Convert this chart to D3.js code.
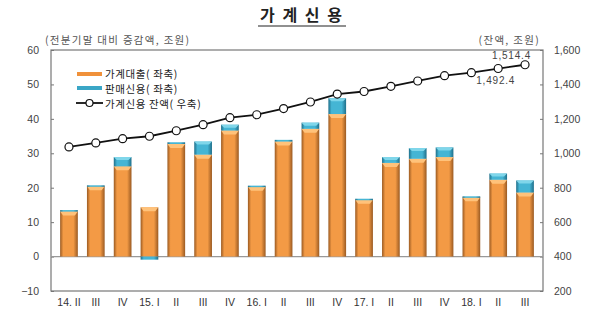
<!DOCTYPE html>
<html><head><meta charset="utf-8">
<script src="https://cdn.jsdelivr.net/npm/d3@7"></script>
<style>body{margin:0;background:#fff}svg{display:block;font-family:"Noto Sans CJK KR","Noto Sans",sans-serif}</style>
</head><body>
<svg id="c" width="600" height="325"></svg>
<script>
const categories = ["14. II","III","IV","15. I","II","III","IV","16. I","II","III","IV","17. I","II","III","IV","18. I","II","III"];
const loans = [13.1,20.4,26.2,14.3,32.7,29.6,36.6,20.3,33.4,37.1,41.4,16.5,27.2,28.4,28.9,17.2,22.3,18.6];
const salesCredit = [0.4,0.3,2.7,-0.9,0.5,3.8,1.7,0.3,0.5,1.8,4.6,0.3,1.7,3.1,2.8,0.3,1.8,3.5];
const balance = [1037,1060,1085,1099,1131,1166,1207,1224,1260,1298,1344,1359,1389,1420,1451,1468,1492.4,1514.4];
const leftTicks = [-10,0,10,20,30,40,50,60];
const rightTicks = [200,400,600,800,1000,1200,1400,1600];
const seriesNames = ["가계대출( 좌축)","판매신용( 좌축)","가계신용 잔액( 우축)"];

const svg = d3.select("#c");
const L = 51, R = 543, T = 50, B = 291;
const idx = categories.map((c, i) => i);
const x = d3.scaleBand().domain(idx).range([L, R]).padding(0.34);
const yL = d3.scaleLinear().domain([-10, 60]).range([B, T]);
const yR = d3.scaleLinear().domain([200, 1600]).range([B, T]);

const defs = svg.append("defs");
function grad(id, edge, mid) {
  const g = defs.append("linearGradient").attr("id", id).attr("x1", 0).attr("x2", 1).attr("y1", 0).attr("y2", 0);
  g.append("stop").attr("offset", "0%").attr("stop-color", edge);
  g.append("stop").attr("offset", "18%").attr("stop-color", mid);
  g.append("stop").attr("offset", "75%").attr("stop-color", mid);
  g.append("stop").attr("offset", "100%").attr("stop-color", edge);
}
grad("gO", "#9a5a22", "#f39a45");
grad("gT", "#1f6f8a", "#45b5d4");

// title
svg.append("text").attr("x", 301).attr("y", 21).attr("text-anchor", "middle")
  .attr("font-size", 16).attr("font-weight", "bold").attr("fill", "#222")
  .attr("word-spacing", "4px").text("가 계 신 용");
svg.append("line").attr("x1", 258).attr("x2", 346).attr("y1", 26).attr("y2", 26).attr("stroke", "#222").attr("stroke-width", 1.2);

svg.append("text").attr("x", 45).attr("y", 44).attr("font-size", 10.5).attr("fill", "#555").attr("letter-spacing", "1.3px").text("(전분기말 대비 증감액, 조원)");
svg.append("text").attr("x", 540).attr("y", 44).attr("text-anchor", "end").attr("font-size", 10.5).attr("fill", "#555").attr("letter-spacing", "1.3px").text("(잔액, 조원)");

// axes
const axL = svg.append("g").attr("transform", `translate(${L},0)`)
  .call(d3.axisLeft(yL).tickValues(leftTicks).tickSize(-3).tickPadding(12));
const axR = svg.append("g").attr("transform", `translate(${R},0)`)
  .call(d3.axisRight(yR).tickValues(rightTicks).tickFormat(d3.format(",")).tickSize(-3).tickPadding(11));
[axL, axR].forEach(a => {
  a.select(".domain").remove();
  a.selectAll("line").attr("stroke", "#777");
  a.selectAll("text").attr("font-size", 10.5).attr("fill", "#444").attr("font-family", "Liberation Sans, Arial, sans-serif");
});
svg.append("rect").attr("x", L).attr("y", T).attr("width", R - L).attr("height", B - T)
  .attr("fill", "none").attr("stroke", "#777").attr("stroke-width", 1.2);
svg.append("line").attr("x1", L).attr("x2", R).attr("y1", yL(0)).attr("y2", yL(0)).attr("stroke", "#999").attr("stroke-width", 1.2);

// x labels
const axX = svg.append("g").attr("transform", `translate(0,${B})`)
  .call(d3.axisBottom(x).tickFormat(i => categories[i]).tickSize(0).tickPadding(8));
axX.select(".domain").remove();
axX.selectAll("text").attr("font-size", 10.5).attr("fill", "#333").attr("font-family", "Liberation Sans, Arial, sans-serif");

// bars
const bw = x.bandwidth();
const g = svg.append("g");
idx.forEach(i => {
  const lv = loans[i], sv = salesCredit[i], x0 = x(i);
  g.append("rect").attr("x", x0).attr("width", bw).attr("y", yL(lv)).attr("height", yL(0) - yL(lv)).attr("fill", "url(#gO)");
  g.append("path").attr("d", `M${x0},${yL(lv)} L${x0+bw},${yL(lv)} L${x0+bw-3},${yL(lv)+4} L${x0+3},${yL(lv)+4} Z`).attr("fill", "#ffc27a");
  let y0, y1;
  if (sv >= 0) { y0 = yL(lv + sv); y1 = yL(lv); } else { y0 = yL(0); y1 = yL(sv); }
  g.append("rect").attr("x", x0).attr("width", bw).attr("y", y0).attr("height", Math.max(1.5, y1 - y0)).attr("fill", "url(#gT)");
  if (y1 - y0 > 4) g.append("path").attr("d", `M${x0},${y0} L${x0+bw},${y0} L${x0+bw-3},${y0+3} L${x0+3},${y0+3} Z`).attr("fill", "#7fd6ea");
});

// line
const cx = i => x(i) + bw / 2;
svg.append("path").datum(balance)
  .attr("d", d3.line().x((d, i) => cx(i)).y(d => yR(d)))
  .attr("fill", "none").attr("stroke", "#111").attr("stroke-width", 1.8);
svg.selectAll("circle.pt").data(balance).join("circle").attr("class", "pt")
  .attr("cx", (d, i) => cx(i)).attr("cy", d => yR(d)).attr("r", 4)
  .attr("fill", "#fff").attr("stroke", "#111").attr("stroke-width", 1.2);

// annotations
const fmt = d3.format(",.1f");
svg.append("text").attr("x", cx(17) + 6).attr("y", yR(balance[17]) - 6).attr("text-anchor", "end")
  .attr("font-size", 10).attr("fill", "#444").attr("letter-spacing", "0.8px").attr("font-family", "Liberation Sans, Arial, sans-serif").text(fmt(balance[17]));
svg.append("text").attr("x", cx(16) + 17).attr("y", yR(balance[16]) + 15).attr("text-anchor", "end")
  .attr("font-size", 10).attr("fill", "#444").attr("letter-spacing", "0.8px").attr("font-family", "Liberation Sans, Arial, sans-serif").text(fmt(balance[16]));

// legend
const lg = svg.append("g").attr("font-size", 10.5).attr("fill", "#222").attr("letter-spacing", "0.6px");
lg.append("rect").attr("x", 77).attr("y", 72).attr("width", 25).attr("height", 4).attr("fill", "#f0913a");
lg.append("rect").attr("x", 77).attr("y", 86).attr("width", 25).attr("height", 4).attr("fill", "#3aa6c6");
lg.append("line").attr("x1", 76).attr("x2", 103).attr("y1", 103).attr("y2", 103).attr("stroke", "#111").attr("stroke-width", 1.8);
lg.append("circle").attr("cx", 89.5).attr("cy", 103).attr("r", 3.5).attr("fill", "#fff").attr("stroke", "#111").attr("stroke-width", 1.2);
seriesNames.forEach((n, i) => lg.append("text").attr("x", 105).attr("y", 78 + i * 15).text(n));
</script>
</body></html>
